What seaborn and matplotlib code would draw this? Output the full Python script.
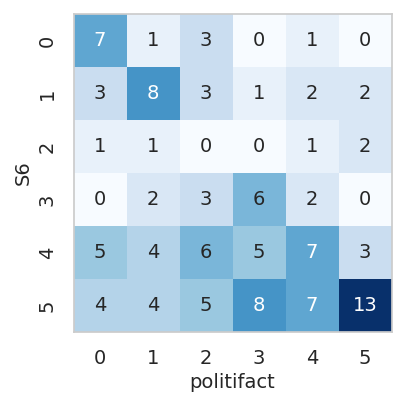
import numpy as np
import pandas as pd
import seaborn as sns
import matplotlib
matplotlib.use("Agg")
import matplotlib.pyplot as plt

labels = [0, 1, 2, 3, 4, 5]
row0 = [7, 1, 3, 0, 1, 0]
row1 = [3, 8, 3, 1, 2, 2]
row2 = [1, 1, 0, 0, 1, 2]
row3 = [0, 2, 3, 6, 2, 0]
row4 = [5, 4, 6, 5, 7, 3]
row5 = [4, 4, 5, 8, 7, 13]

df = pd.DataFrame([row0, row1, row2, row3, row4, row5], index=labels, columns=labels)

sns.set_theme(style="whitegrid")
fig = plt.figure(figsize=(4.07, 4.07), dpi=100)
ax = fig.add_axes([73/407, 1 - 332/407, 319/407, 318/407])
sns.heatmap(df, annot=True, fmt="d", cmap="Blues", cbar=False, square=True, ax=ax,
            annot_kws={"size": 14})
for s in ax.spines.values():
    s.set_visible(True)
    s.set_color("0.8")
ax.set_xlabel("politifact", fontsize=14)
ax.set_ylabel("S6", fontsize=14)
ax.tick_params(labelsize=14, pad=6)
fig.savefig("out.png", dpi=100)
